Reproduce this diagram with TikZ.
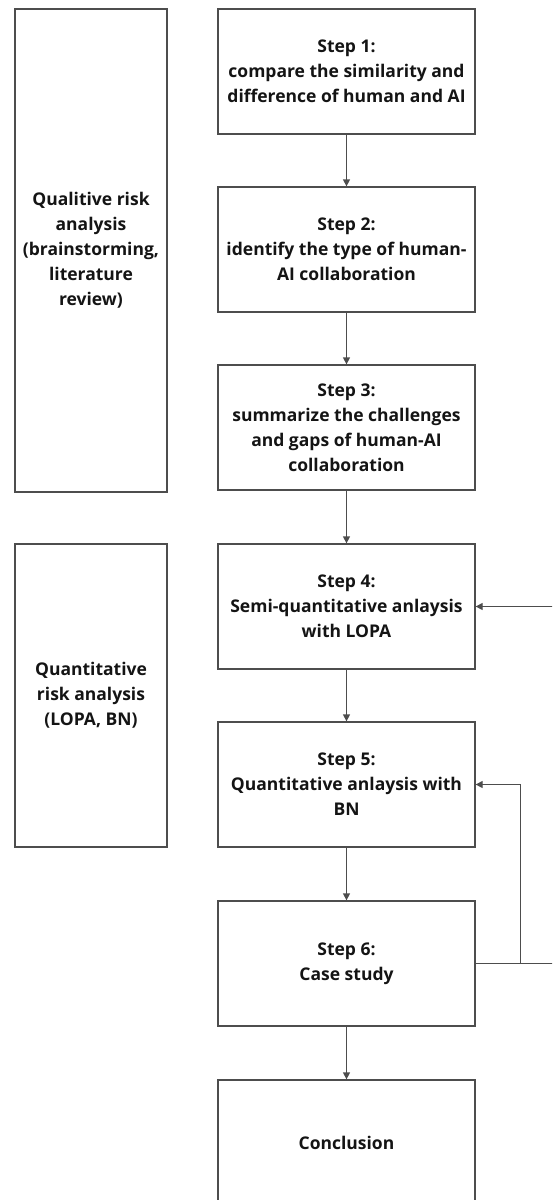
\documentclass[tikz,border=0pt]{standalone}
\usepackage{fontspec}
\setmainfont{Open Sans}
\usetikzlibrary{arrows.meta}
\definecolor{linegray}{HTML}{4D4D4D}
\definecolor{textdark}{HTML}{141414}
\tikzset{
	stepbox/.style={draw=linegray, line width=1.3pt, minimum width=257pt, minimum height=125pt,
		inner sep=0pt, align=center, text=textdark, font=\bfseries\fontsize{17.5}{25}\selectfont},
	phasebox/.style={stepbox, minimum width=152pt},
	flow/.style={draw=linegray, line width=1.3pt, -{Triangle[length=7pt,width=7pt]}}
}
\begin{document}
\begin{tikzpicture}[x=1pt,y=-1pt]
	\useasboundingbox (0,0) rectangle (552,1200);
	\clip (0,0) rectangle (552,1200);
	% left phase boxes
	\node[phasebox, minimum height=483pt] (qual) at (91,250.5)
		{Qualitive risk\\analysis\\(brainstorming,\\literature\\review)};
	\node[phasebox, minimum height=303pt] (quant) at (91,695.5)
		{Quantitative\\risk analysis\\(LOPA, BN)};
	% steps
	\node[stepbox] (s1) at (346.5,71.5) {Step 1:\\compare the similarity and\\difference of human and AI};
	\node[stepbox] (s2) at (346.5,249.5) {Step 2:\\identify the type of human-\\AI collaboration};
	\node[stepbox] (s3) at (346.5,427.5) {Step 3:\\summarize the challenges\\and gaps of human-AI\\collaboration};
	\node[stepbox] (s4) at (346.5,606.5) {Step 4:\\Semi-quantitative anlaysis\\with LOPA};
	\node[stepbox] (s5) at (346.5,784.5) {Step 5:\\Quantitative anlaysis with\\BN};
	\node[stepbox] (s6) at (346.5,963.5) {Step 6:\\Case study};
	\node[stepbox] (end) at (346.5,1142.5) {Conclusion};
	\foreach \a/\b in {s1/s2, s2/s3, s3/s4, s4/s5, s5/s6, s6/end}
		\draw[flow] (\a) -- (\b);
	% feedback loops
	\draw[flow] (s6.east) -- ++(79,0) |- (s4.east);
	\draw[flow] (s6.east) -- ++(45,0) |- (s5.east);
\end{tikzpicture}
\end{document}
